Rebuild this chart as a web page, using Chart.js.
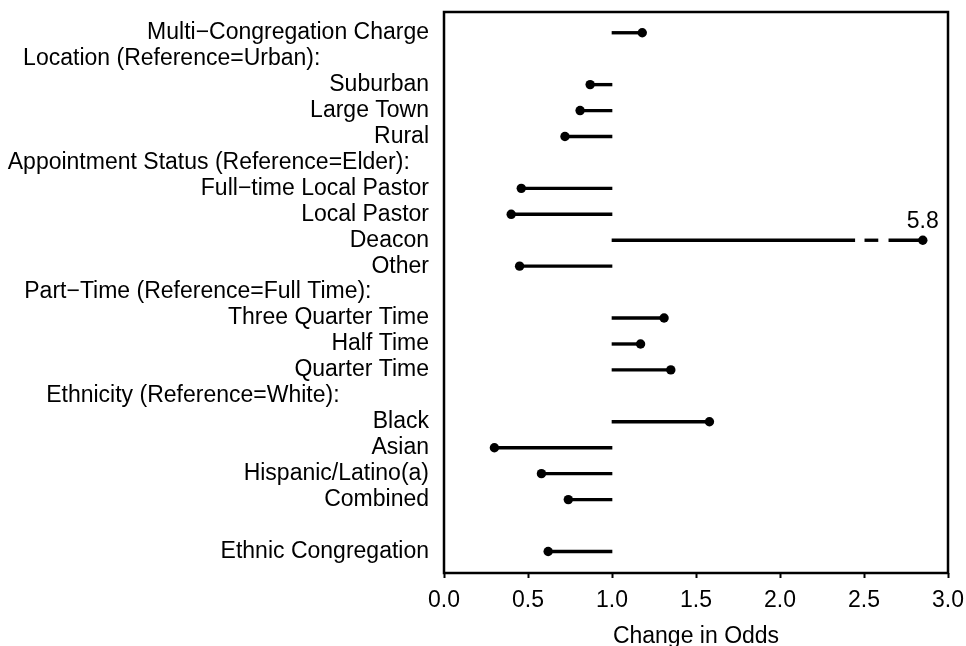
<!DOCTYPE html>
<html>
<head>
<meta charset="utf-8">
<script src="https://cdn.jsdelivr.net/npm/chart.js@4"></script>
<style>
  html, body { margin: 0; padding: 0; background: #ffffff; }
  #wrap { width: 966px; height: 646px; position: relative; }
</style>
</head>
<body>
<div id="wrap"><canvas id="c" width="966" height="646"></canvas></div>
<script>
// ---- data ----
const rowLabels = [
  "Multi\u2212Congregation Charge",
  "Location (Reference=Urban):",
  "Suburban",
  "Large Town",
  "Rural",
  "Appointment Status (Reference=Elder):",
  "Full\u2212time Local Pastor",
  "Local Pastor",
  "Deacon",
  "Other",
  "Part\u2212Time (Reference=Full Time):",
  "Three Quarter Time",
  "Half Time",
  "Quarter Time",
  "Ethnicity (Reference=White):",
  "Black",
  "Asian",
  "Hispanic/Latino(a)",
  "Combined",
  "",
  "Ethnic Congregation"
];
const headerPad = [0, 17, 0, 0, 0, 3, 0, 0, 0, 0, 9, 0, 0, 0, 14, 0, 0, 0, 0, 0, 0];
const oddsRatios = [1.18, null, 0.87, 0.81, 0.72, null, 0.46, 0.40, 5.8, 0.45, null, 1.31, 1.17, 1.35, null, 1.58, 0.30, 0.58, 0.74, null, 0.62];
const referenceValue = 1.0;
const axisMax = 3.0;
const truncatedShownAt = 2.85;          // where an off-scale value is drawn
const breakGaps = [[2.445, 2.505], [2.583, 2.648]];
const xTicks = [0.0, 0.5, 1.0, 1.5, 2.0, 2.5, 3.0];

// ---- build marks ----
const segs = [];
const dots = [];
const offScale = [];
oddsRatios.forEach((v, i) => {
  if (v === null) return;
  if (v > axisMax) {
    const shown = truncatedShownAt;
    let start = referenceValue;
    breakGaps.forEach(g => { segs.push({ x: [start, g[0]], y: i }); start = g[1]; });
    segs.push({ x: [start, shown], y: i });
    dots.push({ x: shown, y: i });
    offScale.push({ x: shown, y: i, text: v.toFixed(1) });
  } else {
    segs.push({ x: [referenceValue, v], y: i });
    dots.push({ x: v, y: i });
  }
});

const FONT = "'Liberation Sans', Arial, Helvetica, sans-serif";
const FS = 23;

const boxPlugin = {
  id: 'box',
  afterDatasetsDraw(chart) {
    const a = chart.chartArea, ctx = chart.ctx;
    ctx.save();
    ctx.strokeStyle = '#000';
    ctx.lineWidth = 2.5;
    ctx.strokeRect(a.left, a.top, a.right - a.left, a.bottom - a.top);
    // off-scale value labels
    ctx.fillStyle = '#000';
    ctx.font = FS + 'px ' + FONT;
    ctx.textAlign = 'center';
    ctx.textBaseline = 'alphabetic';
    offScale.forEach(o => {
      const px = chart.scales.x.getPixelForValue(o.x);
      const py = chart.scales.y.getPixelForValue(o.y);
      ctx.fillText(o.text, px, py - 12);
    });
    ctx.restore();
  }
};

new Chart(document.getElementById('c'), {
  data: {
    datasets: [
      {
        type: 'bar',
        data: segs,
        backgroundColor: '#000',
        borderWidth: 0,
        barThickness: 2.7,
        parsing: { xAxisKey: 'x', yAxisKey: 'y' }
      },
      {
        type: 'scatter',
        data: dots,
        pointRadius: 4.7,
        pointHoverRadius: 4.7,
        pointBackgroundColor: '#000',
        pointBorderColor: '#000',
        pointBorderWidth: 0
      }
    ]
  },
  options: {
    indexAxis: 'y',
    responsive: false,
    animation: false,
    layout: { padding: { left: 0, right: 18, top: 12, bottom: 0 } },
    plugins: { legend: { display: false }, tooltip: { enabled: false } },
    scales: {
      x: {
        type: 'linear',
        min: 0, max: axisMax,
        afterBuildTicks: s => { s.ticks = xTicks.map(v => ({ value: v })); },
        ticks: {
          color: '#000',
          font: { family: FONT, size: FS },
          padding: 9,
          maxRotation: 0,
          callback: v => Number(v).toFixed(1)
        },
        grid: { drawOnChartArea: false, drawTicks: true, tickLength: 5, tickWidth: 2, tickColor: '#000' },
        border: { display: false },
        title: { display: true, text: 'Change in Odds', color: '#000', font: { family: FONT, size: FS }, padding: { top: 0, bottom: -4 } },
        afterFit: s => { s.height = 73; s.paddingLeft = 0; s.paddingRight = 0; }
      },
      y: {
        type: 'linear',
        reverse: true,
        offset: false,
        min: -0.8, max: rowLabels.length - 1 + 0.83,
        afterBuildTicks: s => { s.ticks = rowLabels.map((l, i) => ({ value: i })); },
        ticks: {
          color: '#000',
          font: { family: FONT, size: FS },
          padding: 15,
          autoSkip: false,
          callback: (v, i) => rowLabels[i] + ' '.repeat(headerPad[i])
        },
        grid: { display: false, drawTicks: false, offset: false },
        border: { display: false },
        afterFit: s => { s.width = 444; s.paddingTop = 0; s.paddingBottom = 0; }
      }
    }
  },
  plugins: [boxPlugin]
});
</script>
</body>
</html>
